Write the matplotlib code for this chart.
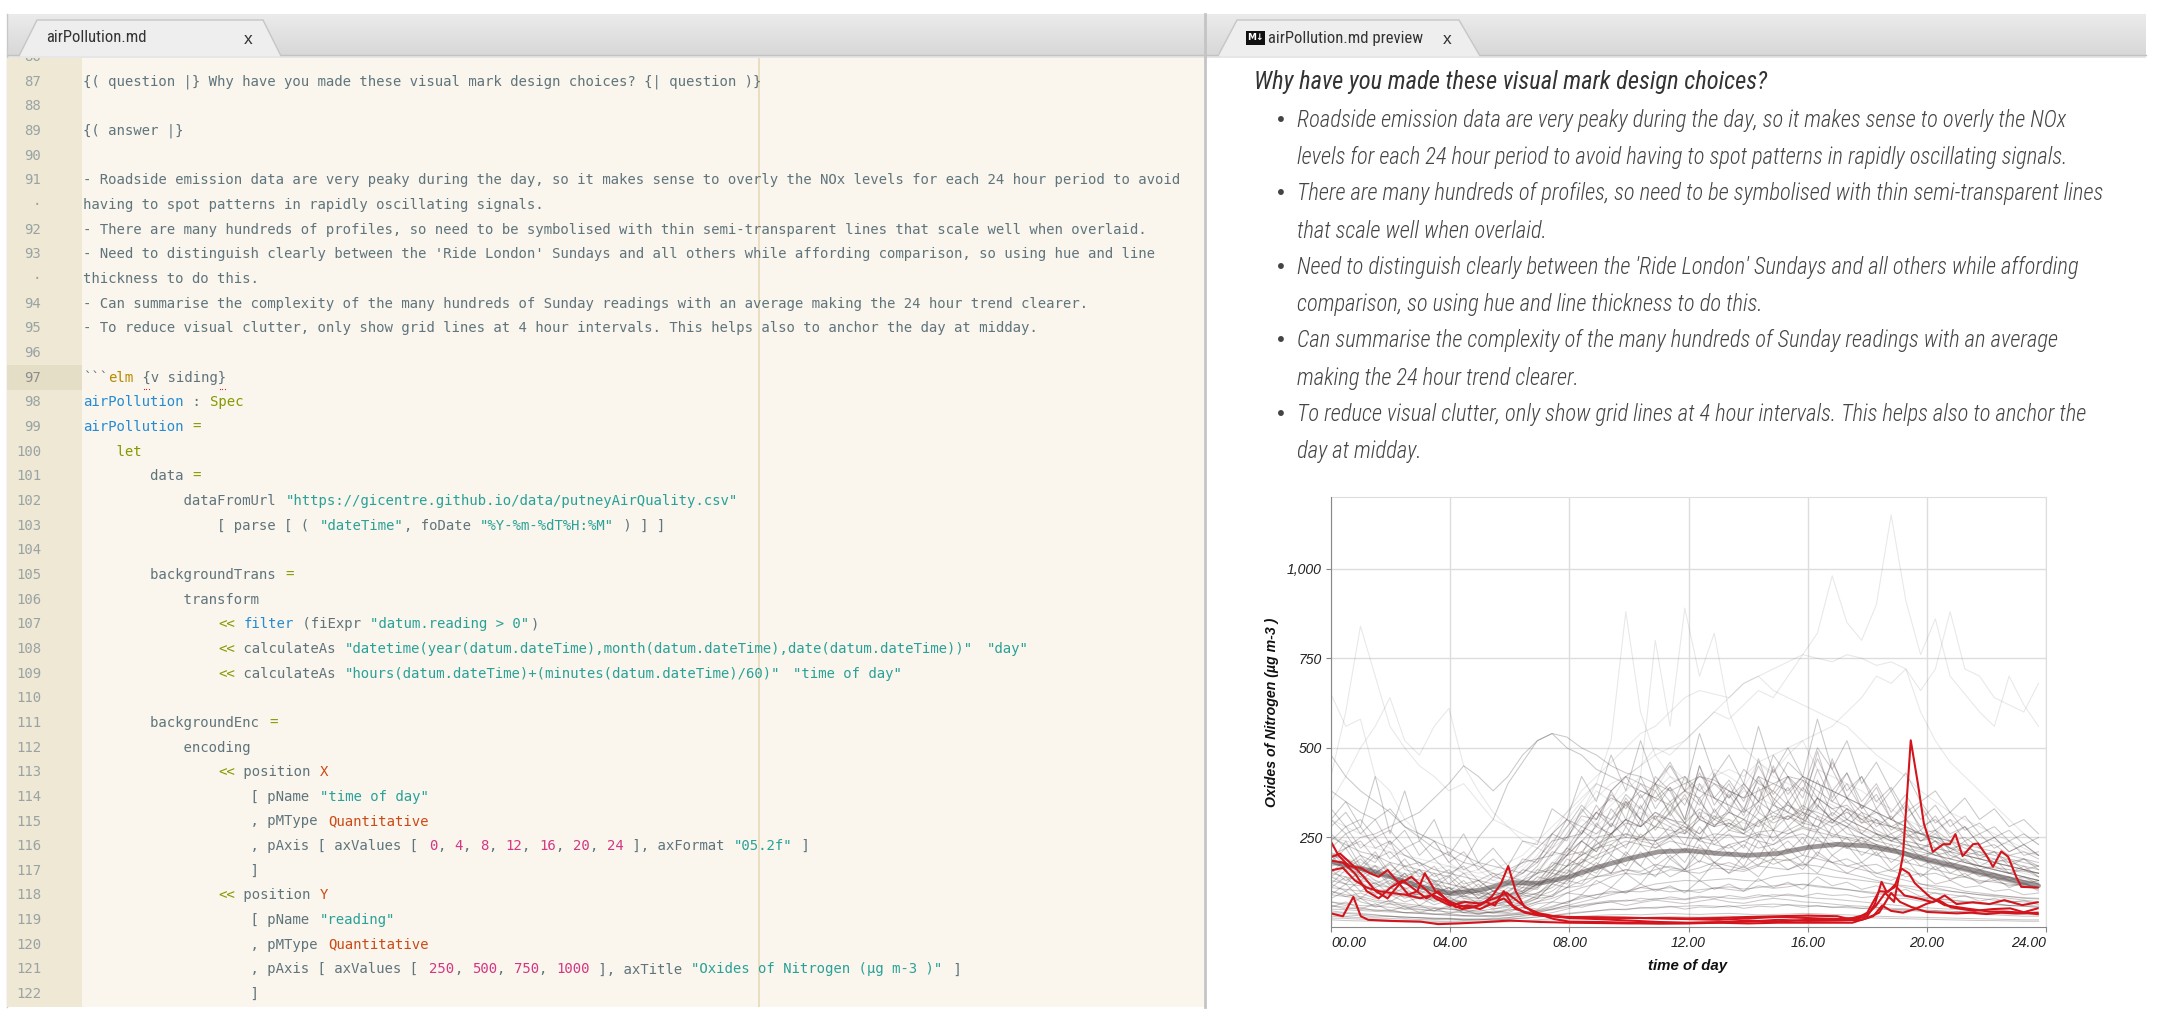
import numpy as np
import matplotlib
matplotlib.use("Agg")
import matplotlib.pyplot as plt
from matplotlib import font_manager
from matplotlib.patches import Polygon, Rectangle
from matplotlib.colors import LinearSegmentedColormap

W, H, DPI = 2166, 1028, 100

# ---------------------------------------------------------------- chart data
X_TICKS = [0, 4, 8, 12, 16, 20, 24]
X_LABELS = ["00.00", "04.00", "08.00", "12.00", "16.00", "20.00", "24.00"]
Y_TICKS = [250, 500, 750, 1000]
Y_LABELS = ["250", "500", "750", "1,000"]

# Sunday average profile
AVG_HOURS = [0, 1, 2, 3, 4, 5, 6, 7, 8, 9, 10, 11, 12, 13, 14, 15, 16, 17, 18, 19, 20, 21, 22, 23, 23.75]
AVG_NOX = [182, 163, 140, 112, 94, 103, 124, 122, 140, 168, 191, 210, 213, 205, 200, 205, 222, 231, 226, 210,
           188, 168, 148, 128, 115]

# background daily profiles, half-hourly readings from 00:00 to 23:45
DAY_01 = [180, 165, 150, 172, 140, 120, 135, 110, 95, 102, 88, 80, 76, 85, 95, 110, 140, 180, 230, 260, 300, 280,
          320, 290, 270, 310, 285, 300, 270, 295, 320, 300, 340, 310, 290, 330, 300, 270, 250, 230, 215, 240, 200,
          185, 170, 160, 150, 140, 130]
DAY_02 = [60, 55, 50, 48, 45, 40, 38, 35, 33, 30, 30, 28, 32, 36, 45, 55, 70, 85, 90, 100, 95, 110, 105, 98, 102,
          96, 110, 105, 100, 115, 108, 112, 120, 115, 110, 105, 98, 92, 90, 85, 80, 78, 75, 70, 66, 62, 60, 58, 55]
DAY_03 = [650, 560, 580, 420, 380, 300, 260, 240, 180, 150, 160, 130, 120, 140, 160, 200, 260, 320, 380, 350, 420,
          400, 380, 450, 410, 380, 440, 420, 390, 460, 430, 480, 520, 440, 420, 400, 380, 350, 330, 300, 280, 260,
          300, 280, 250, 240, 230, 210, 200]
DAY_04 = [420, 600, 840, 700, 560, 500, 450, 420, 380, 400, 350, 300, 280, 260, 240, 220, 250, 300, 280, 320, 350,
          330, 300, 280, 260, 300, 320, 290, 270, 250, 300, 320, 280, 260, 240, 220, 250, 230, 210, 200, 190, 180,
          170, 160, 150, 145, 140, 135, 130]
DAY_05 = [300, 280, 260, 240, 220, 200, 180, 160, 170, 150, 140, 130, 150, 170, 220, 260, 300, 350, 400, 380, 420,
          450, 500, 480, 520, 560, 600, 580, 620, 660, 640, 700, 760, 820, 980, 850, 800, 900, 1150, 910, 760, 860,
          700, 650, 600, 560, 700, 620, 560]
DAY_06 = [150, 140, 130, 120, 110, 95, 90, 80, 70, 65, 60, 62, 58, 70, 85, 100, 130, 160, 190, 210, 230, 250, 240,
          260, 280, 250, 240, 270, 260, 240, 230, 260, 280, 270, 300, 260, 250, 230, 220, 210, 190, 180, 170, 160,
          150, 140, 130, 120, 110]
DAY_07 = [90, 85, 80, 70, 65, 60, 55, 52, 50, 48, 45, 50, 55, 60, 70, 80, 95, 110, 120, 140, 150, 145, 160, 170,
          155, 165, 180, 170, 160, 175, 190, 185, 200, 190, 180, 170, 160, 150, 140, 130, 120, 115, 110, 100, 95, 90,
          85, 80, 78]
DAY_08 = [220, 260, 200, 180, 240, 160, 150, 130, 120, 110, 100, 90, 85, 95, 120, 160, 210, 260, 320, 280, 350,
          300, 420, 380, 300, 450, 360, 320, 400, 350, 480, 420, 380, 500, 440, 360, 320, 300, 280, 260, 240, 260,
          220, 200, 190, 180, 170, 160, 150]
DAY_09 = [40, 38, 35, 33, 30, 28, 26, 25, 24, 23, 22, 24, 26, 30, 35, 40, 50, 60, 65, 70, 75, 72, 80, 78, 76, 82,
          85, 80, 78, 84, 90, 88, 85, 80, 78, 74, 70, 66, 62, 58, 55, 52, 50, 48, 46, 44, 42, 40, 38]
DAY_10 = [25, 24, 22, 20, 19, 18, 17, 16, 15, 15, 14, 15, 16, 18, 20, 24, 28, 30, 32, 34, 35, 34, 36, 38, 36, 35,
          37, 38, 36, 34, 35, 36, 38, 37, 35, 34, 32, 30, 29, 28, 27, 26, 25, 24, 23, 22, 21, 20, 20]
DAY_11 = [380, 350, 320, 300, 330, 280, 250, 220, 200, 180, 170, 150, 140, 130, 150, 170, 200, 240, 280, 260, 300,
          280, 320, 300, 280, 260, 300, 280, 260, 290, 310, 300, 330, 320, 300, 280, 260, 240, 230, 220, 210, 200,
          190, 180, 170, 165, 160, 155, 150]
DAY_12 = [120, 160, 140, 110, 130, 100, 90, 120, 80, 70, 65, 60, 75, 90, 110, 150, 200, 240, 210, 260, 300, 250,
          280, 340, 290, 260, 310, 280, 330, 300, 270, 350, 300, 280, 320, 290, 260, 240, 260, 220, 200, 210, 180,
          170, 160, 150, 140, 130, 120]
DAY_13 = [200, 190, 170, 160, 150, 140, 130, 120, 110, 100, 95, 90, 92, 100, 120, 140, 170, 200, 230, 250, 260,
          240, 230, 250, 270, 240, 230, 220, 240, 260, 250, 270, 290, 280, 260, 250, 240, 230, 220, 210, 200, 190,
          180, 170, 160, 150, 140, 130, 125]
DAY_14 = [250, 230, 210, 200, 180, 170, 160, 150, 140, 180, 250, 300, 400, 460, 520, 540, 500, 480, 440, 420, 400,
          380, 360, 400, 420, 380, 360, 340, 320, 350, 380, 340, 320, 300, 280, 300, 280, 260, 240, 230, 220, 200,
          190, 180, 170, 160, 150, 140, 130]
DAY_15 = [160, 150, 140, 130, 120, 110, 100, 95, 90, 85, 80, 90, 100, 120, 150, 200, 260, 320, 400, 520, 880, 600,
          480, 420, 380, 400, 360, 340, 380, 360, 340, 320, 300, 330, 310, 290, 270, 250, 240, 230, 220, 210, 200,
          190, 180, 170, 160, 150, 140]
DAY_16 = [140, 130, 120, 115, 110, 100, 95, 90, 85, 80, 78, 80, 90, 110, 140, 180, 220, 260, 300, 340, 380, 420,
          800, 560, 890, 700, 820, 600, 500, 460, 420, 400, 380, 360, 340, 320, 300, 290, 280, 270, 260, 240, 220,
          200, 190, 180, 170, 160, 150]
DAY_17 = [200, 190, 180, 170, 160, 150, 140, 130, 120, 110, 100, 110, 130, 160, 200, 260, 320, 380, 420, 460, 500,
          540, 560, 600, 640, 660, 650, 640, 680, 700, 660, 640, 620, 600, 580, 560, 520, 480, 450, 420, 380, 350,
          320, 300, 280, 260, 240, 220, 200]
DAY_18 = [180, 170, 160, 150, 140, 130, 120, 110, 100, 95, 90, 100, 120, 150, 190, 240, 280, 320, 360, 400, 420,
          450, 480, 500, 520, 560, 600, 640, 680, 700, 720, 740, 760, 750, 740, 760, 750, 730, 740, 720, 600, 520,
          460, 420, 380, 340, 300, 260, 230]
DAY_19 = [250, 240, 230, 220, 210, 200, 190, 180, 170, 160, 150, 160, 180, 200, 240, 280, 320, 360, 400, 380, 420,
          400, 380, 420, 400, 380, 420, 440, 420, 460, 480, 500, 520, 540, 560, 600, 640, 700, 680, 720, 660, 720,
          880, 720, 700, 640, 620, 600, 680]
DAY_20 = [130, 120, 115, 105, 100, 90, 85, 80, 75, 70, 68, 66, 70, 80, 95, 120, 150, 180, 200, 220, 240, 230, 220,
          240, 230, 220, 210, 230, 240, 220, 230, 250, 260, 240, 230, 220, 210, 200, 190, 180, 170, 160, 150, 140,
          130, 125, 120, 115, 110]
DAY_21 = [80, 100, 70, 60, 75, 55, 50, 45, 60, 40, 38, 42, 50, 65, 80, 120, 160, 140, 180, 150, 200, 170, 140, 190,
          160, 210, 180, 150, 200, 170, 220, 190, 160, 210, 180, 150, 170, 140, 130, 150, 120, 110, 100, 95, 90, 85,
          80, 75, 70]
DAY_22 = [300, 260, 280, 220, 240, 200, 180, 160, 150, 140, 130, 120, 130, 150, 180, 220, 280, 340, 300, 380, 420,
          360, 400, 450, 380, 420, 400, 360, 440, 400, 380, 460, 420, 400, 380, 360, 340, 320, 300, 280, 260, 250,
          240, 220, 210, 200, 190, 180, 170]
DAY_23 = [50, 48, 46, 44, 42, 40, 38, 36, 34, 32, 30, 32, 35, 40, 48, 58, 70, 80, 90, 95, 100, 98, 105, 110, 100,
          104, 108, 112, 106, 110, 115, 120, 118, 112, 108, 104, 100, 96, 92, 88, 84, 80, 76, 72, 68, 64, 60, 58, 55]
DAY_24 = [170, 180, 160, 150, 140, 120, 110, 100, 90, 85, 80, 82, 88, 100, 130, 170, 220, 280, 260, 300, 340, 300,
          280, 320, 360, 300, 280, 320, 300, 280, 340, 320, 300, 360, 330, 300, 280, 260, 250, 240, 230, 220, 210,
          200, 190, 180, 170, 160, 150]
DAY_25 = [480, 420, 380, 350, 320, 280, 260, 240, 220, 200, 180, 170, 160, 180, 220, 260, 300, 280, 320, 360, 340,
          380, 360, 340, 380, 360, 400, 380, 360, 420, 400, 380, 420, 400, 380, 360, 340, 320, 300, 280, 260, 240,
          220, 210, 200, 190, 180, 170, 160]
DAY_26 = [100, 90, 85, 75, 70, 65, 60, 55, 50, 45, 42, 40, 38, 40, 45, 50, 60, 70, 80, 90, 100, 110, 120, 125, 130,
          128, 132, 135, 130, 128, 140, 145, 150, 148, 140, 135, 130, 125, 120, 115, 110, 105, 100, 95, 90, 88, 85,
          82, 80]
DAY_27 = [30, 28, 26, 25, 24, 22, 21, 20, 20, 19, 19, 20, 22, 25, 28, 32, 36, 40, 45, 48, 50, 52, 55, 56, 58, 60,
          58, 56, 60, 62, 64, 62, 60, 58, 56, 54, 52, 50, 48, 46, 44, 42, 40, 38, 36, 34, 32, 30, 30]
DAY_28 = [140, 120, 160, 130, 110, 150, 100, 90, 110, 80, 70, 90, 100, 130, 170, 230, 300, 260, 340, 280, 360, 300,
          380, 320, 420, 350, 300, 380, 330, 410, 360, 320, 390, 340, 300, 280, 320, 260, 240, 260, 220, 200, 210,
          180, 170, 160, 150, 140, 130]
DAY_29 = [350, 420, 500, 560, 640, 520, 480, 560, 610, 450, 380, 320, 280, 240, 220, 200, 210, 240, 260, 280, 300,
          320, 300, 280, 300, 320, 310, 300, 290, 280, 300, 310, 320, 300, 290, 280, 270, 260, 250, 240, 230, 220,
          210, 200, 190, 180, 170, 160, 150]
DAY_30 = [200, 220, 250, 260, 280, 300, 320, 360, 400, 450, 420, 380, 420, 480, 520, 540, 530, 500, 480, 450, 430,
          420, 400, 380, 400, 420, 410, 380, 360, 380, 400, 420, 410, 380, 350, 330, 310, 290, 280, 270, 260, 250,
          240, 230, 220, 210, 200, 190, 180]
DAY_31 = [70, 65, 60, 58, 55, 50, 48, 45, 42, 40, 38, 40, 45, 55, 70, 90, 110, 130, 140, 150, 160, 150, 145, 160,
          155, 150, 165, 160, 155, 170, 165, 160, 175, 170, 160, 150, 140, 130, 120, 110, 100, 95, 90, 85, 80, 75,
          72, 70, 68]
DAY_32 = [110, 105, 100, 95, 90, 85, 80, 75, 72, 70, 68, 72, 80, 95, 115, 140, 170, 200, 220, 240, 250, 245, 240,
          255, 250, 245, 260, 255, 250, 265, 270, 260, 275, 265, 255, 245, 235, 225, 215, 200, 185, 175, 165, 155,
          145, 135, 125, 115, 105]
DAY_33 = [20, 18, 17, 16, 15, 14, 13, 13, 12, 12, 12, 13, 14, 16, 18, 20, 22, 24, 25, 26, 27, 26, 28, 29, 28, 27,
          29, 30, 28, 27, 28, 29, 30, 29, 28, 27, 26, 25, 24, 23, 22, 21, 20, 19, 18, 18, 17, 16, 16]
DAY_34 = [45, 40, 38, 34, 30, 28, 25, 24, 22, 20, 20, 22, 26, 32, 40, 50, 60, 55, 65, 70, 60, 68, 75, 70, 65, 72,
          78, 70, 66, 74, 80, 76, 70, 68, 64, 60, 58, 55, 52, 50, 48, 46, 44, 42, 40, 38, 36, 35, 34]
DAY_35 = [150, 190, 140, 170, 120, 150, 110, 130, 90, 115, 80, 100, 85, 120, 110, 160, 150, 210, 190, 260, 220, 300,
          240, 280, 230, 320, 250, 290, 260, 340, 270, 310, 280, 360, 290, 330, 260, 300, 240, 270, 220, 240, 190,
          210, 170, 190, 150, 170, 140]
DAY_36 = [210, 170, 200, 150, 180, 130, 160, 110, 140, 90, 120, 80, 110, 100, 140, 130, 190, 170, 240, 200, 280, 230,
          310, 250, 290, 240, 330, 270, 300, 250, 350, 280, 320, 270, 380, 300, 340, 280, 310, 250, 270, 220, 240,
          200, 210, 180, 190, 160, 170]
DAY_37 = [90, 120, 80, 110, 70, 95, 60, 85, 55, 75, 50, 70, 60, 90, 80, 120, 110, 160, 140, 190, 150, 210, 170, 200,
          160, 230, 180, 210, 170, 240, 190, 220, 180, 250, 200, 230, 180, 210, 160, 190, 140, 170, 130, 150, 120,
          140, 110, 125, 100]
DAY_38 = [260, 220, 240, 190, 210, 170, 180, 140, 160, 120, 130, 100, 120, 110, 160, 150, 220, 200, 290, 250, 350,
          280, 400, 310, 370, 300, 430, 330, 390, 320, 450, 350, 410, 330, 470, 360, 420, 330, 380, 300, 340, 270,
          300, 240, 260, 220, 240, 200, 210]
DAY_39 = [120, 100, 130, 90, 110, 80, 95, 70, 85, 60, 75, 55, 70, 65, 90, 85, 130, 120, 170, 150, 210, 170, 240,
          190, 220, 180, 250, 200, 230, 190, 270, 210, 250, 200, 280, 220, 250, 200, 230, 180, 200, 160, 180, 140,
          160, 130, 140, 120, 130]
DAY_40 = [180, 220, 160, 200, 140, 170, 120, 150, 100, 130, 90, 110, 95, 130, 120, 180, 170, 240, 210, 290, 250, 340,
          270, 320, 260, 360, 280, 330, 270, 390, 300, 350, 290, 410, 310, 360, 290, 330, 270, 300, 240, 270, 210,
          240, 190, 210, 170, 190, 160]
DAY_41 = [70, 60, 80, 55, 65, 50, 60, 45, 55, 40, 50, 38, 48, 50, 65, 70, 95, 90, 130, 110, 150, 120, 170, 140, 160,
          130, 180, 150, 170, 140, 190, 160, 180, 150, 200, 170, 180, 150, 160, 140, 150, 120, 130, 110, 115, 100,
          105, 90, 95]
DAY_42 = [240, 280, 220, 250, 190, 220, 170, 190, 150, 170, 130, 150, 120, 160, 150, 210, 200, 270, 240, 330, 280,
          370, 300, 350, 290, 400, 320, 370, 310, 420, 340, 390, 320, 440, 350, 400, 330, 370, 300, 340, 280, 300,
          260, 280, 230, 250, 210, 230, 200]
DAY_43 = [110, 140, 100, 125, 90, 110, 80, 100, 70, 90, 65, 80, 70, 95, 90, 130, 120, 170, 150, 200, 170, 230, 190,
          220, 180, 250, 200, 230, 190, 260, 210, 240, 200, 270, 220, 250, 200, 230, 180, 210, 170, 190, 150, 170,
          140, 150, 130, 140, 120]
DAY_44 = [160, 130, 150, 120, 140, 105, 125, 95, 110, 85, 100, 75, 90, 95, 120, 130, 170, 180, 220, 230, 260, 250,
          280, 270, 260, 300, 280, 290, 270, 320, 290, 310, 290, 340, 300, 320, 290, 300, 260, 280, 240, 250, 220,
          230, 200, 210, 180, 190, 170]
DAY_45 = [330, 280, 300, 250, 270, 220, 240, 190, 210, 160, 180, 140, 160, 150, 190, 200, 250, 260, 320, 300, 370,
          330, 400, 350, 380, 340, 420, 360, 400, 350, 440, 370, 420, 360, 460, 380, 420, 350, 390, 320, 350, 290,
          320, 270, 290, 250, 270, 230, 250]
DAY_46 = [55, 70, 50, 65, 45, 58, 40, 52, 38, 48, 35, 45, 40, 55, 50, 70, 65, 90, 80, 110, 95, 120, 100, 115, 95,
          130, 105, 120, 100, 135, 110, 125, 105, 140, 115, 125, 105, 115, 95, 105, 85, 95, 80, 88, 72, 80, 68, 74,
          62]
DAY_47 = [200, 160, 190, 150, 175, 140, 160, 125, 145, 110, 130, 100, 115, 120, 150, 160, 200, 210, 250, 260, 290,
          280, 310, 300, 290, 330, 300, 320, 300, 350, 320, 340, 310, 360, 330, 340, 300, 320, 280, 300, 260, 270,
          240, 250, 220, 230, 200, 210, 190]
DAY_48 = [140, 170, 130, 160, 115, 140, 100, 125, 90, 110, 80, 100, 85, 110, 105, 150, 140, 190, 170, 230, 200, 260,
          220, 250, 210, 280, 230, 260, 220, 300, 240, 280, 230, 310, 250, 280, 230, 260, 210, 240, 190, 210, 170,
          190, 160, 170, 150, 160, 140]
DAY_49 = [100, 85, 95, 80, 90, 70, 82, 62, 75, 55, 68, 50, 60, 62, 80, 85, 110, 115, 140, 145, 160, 155, 175, 165,
          160, 185, 170, 180, 165, 195, 175, 190, 170, 200, 180, 190, 170, 175, 155, 165, 145, 150, 135, 140, 125,
          130, 115, 120, 110]
DAY_50 = [280, 320, 260, 300, 230, 270, 200, 240, 180, 210, 160, 190, 150, 180, 190, 240, 250, 310, 300, 370, 330,
          400, 350, 390, 340, 430, 360, 410, 350, 450, 370, 420, 360, 470, 380, 430, 350, 400, 320, 370, 300, 340,
          280, 310, 260, 280, 240, 260, 230]
DAY_51 = [35, 30, 33, 28, 30, 25, 27, 22, 24, 20, 22, 19, 22, 24, 28, 32, 38, 42, 45, 50, 48, 55, 52, 58, 50, 56,
          54, 60, 52, 58, 56, 62, 55, 60, 54, 58, 52, 55, 48, 50, 45, 46, 42, 44, 40, 40, 38, 37, 36]
DAY_52 = [60, 50, 55, 45, 48, 40, 42, 36, 38, 32, 34, 30, 33, 36, 42, 48, 55, 62, 68, 74, 72, 80, 76, 84, 78, 86,
          80, 88, 82, 90, 84, 92, 86, 94, 88, 90, 82, 86, 78, 80, 72, 74, 68, 70, 64, 66, 60, 62, 58]
DAY_53 = [300, 350, 280, 420, 260, 380, 240, 300, 200, 260, 180, 220, 170, 240, 230, 330, 300, 420, 350, 480, 380,
          520, 400, 460, 380, 540, 420, 480, 400, 560, 430, 500, 420, 580, 440, 520, 400, 460, 380, 430, 350, 380,
          320, 360, 300, 330, 280, 300, 260]
DAY_54 = [180, 240, 170, 210, 150, 190, 140, 170, 120, 150, 110, 140, 130, 190, 180, 260, 240, 330, 280, 380, 300,
          420, 330, 390, 300, 450, 340, 400, 320, 470, 350, 420, 330, 490, 360, 430, 330, 390, 300, 350, 270, 310,
          250, 280, 230, 250, 210, 230, 200]

BACKGROUND_DAYS = [DAY_01, DAY_02, DAY_03, DAY_04, DAY_05, DAY_06, DAY_07, DAY_08, DAY_09, DAY_10, DAY_11, DAY_12,
                   DAY_13, DAY_14, DAY_15, DAY_16, DAY_17, DAY_18, DAY_19, DAY_20, DAY_21, DAY_22, DAY_23, DAY_24,
                   DAY_25, DAY_26, DAY_27, DAY_28, DAY_29, DAY_30, DAY_31, DAY_32, DAY_33, DAY_34, DAY_35, DAY_36,
                   DAY_37, DAY_38, DAY_39, DAY_40, DAY_41, DAY_42, DAY_43, DAY_44, DAY_45, DAY_46, DAY_47, DAY_48,
                   DAY_49, DAY_50, DAY_51, DAY_52, DAY_53, DAY_54]

# 'Ride London' Sundays
RIDE_A_T = [0, 0.25, 0.6, 1.0, 1.3, 1.6, 1.9, 2.3, 2.6, 2.9, 3.15, 3.5, 4.0, 4.5, 5.0, 5.4, 5.7, 5.95, 6.2, 6.5,
            7.0, 7.5, 8, 9, 10, 11, 12, 13, 14, 15, 16, 17, 17.5, 18.0, 18.3, 18.6, 18.9, 19.2, 19.46, 19.7, 19.9,
            20.2, 20.55, 20.77, 20.96, 21.2, 21.55, 21.72, 22.0, 22.22, 22.5, 22.73, 23.0, 23.17, 23.72]
RIDE_A_V = [238, 200, 170, 165, 150, 140, 159, 120, 90, 100, 150, 100, 70, 55, 60, 85, 120, 170, 100, 55, 38, 30,
            28, 27, 26, 24, 22, 20, 24, 28, 25, 22, 25, 35, 60, 95, 70, 200, 521, 400, 289, 210, 231, 231, 259, 198,
            231, 233, 200, 168, 211, 196, 140, 112, 110]
RIDE_B_T = [0, 0.4, 0.8, 1.2, 1.6, 2.0, 2.4, 2.8, 3.2, 3.6, 4.0, 4.4, 4.8, 5.2, 5.5, 5.8, 6.1, 6.5, 7.0, 8, 9, 10,
            11, 12, 13, 14, 15, 16, 17, 17.5, 18.0, 18.26, 18.48, 18.65, 18.9, 19.15, 19.4, 19.6, 20.1, 20.6, 21.3,
            22.1, 22.6, 23.2, 23.72]
RIDE_B_V = [185, 180, 150, 100, 80, 110, 130, 105, 80, 100, 65, 50, 55, 70, 60, 100, 60, 40, 32, 27, 26, 25, 25,
            24, 25, 28, 30, 32, 30, 20, 30, 65, 126, 98, 110, 163, 150, 122, 84, 61, 52, 43, 43, 40, 52]
RIDE_C_T = [0, 0.4, 0.8, 1.2, 1.6, 2.0, 2.5, 3.0, 3.4, 3.8, 4.2, 4.6, 5.0, 5.4, 5.8, 6.2, 6.8, 7.5, 8, 9, 10, 11,
            12, 13, 14, 15, 16, 17, 17.6, 18.0, 18.4, 18.7, 18.92, 19.25, 19.8, 20.2, 20.6, 21.0, 21.55, 22.1, 22.6,
            23.2, 23.72]
RIDE_C_V = [158, 165, 130, 110, 100, 95, 90, 80, 90, 75, 55, 60, 50, 65, 80, 50, 35, 30, 25, 22, 18, 14, 12, 13,
            18, 15, 20, 22, 22, 40, 100, 98, 117, 88, 78, 69, 88, 64, 69, 64, 75, 61, 69]
RIDE_D_T = [0, 0.3, 0.7, 1.1, 1.5, 1.9, 2.3, 2.7, 3.1, 3.5, 4.0, 4.5, 5.0, 5.5, 5.9, 6.3, 6.8, 7.5, 8, 9, 10, 11,
            12, 13, 14, 15, 16, 17, 17.8, 18.2, 18.5, 18.8, 19.2, 19.6, 20.0, 20.4, 20.8, 21.2, 21.6, 22.2, 22.8,
            23.3, 23.72]
RIDE_D_V = [195, 205, 175, 140, 100, 80, 120, 140, 110, 80, 60, 70, 65, 80, 95, 70, 40, 22, 15, 14, 12, 10, 11,
            13, 15, 20, 17, 18, 20, 30, 60, 45, 40, 50, 65, 75, 55, 50, 45, 50, 52, 40, 36]
RIDE_E_T = [0, 0.4, 0.75, 1.0, 1.25, 2, 3, 3.6, 4.3, 5, 6, 7, 8, 9, 10, 11, 12, 13, 14, 15, 16, 17, 17.5, 18.0,
            18.4, 18.8, 19.1, 19.5, 20.0, 20.5, 21.0, 21.5, 22.0, 22.5, 23.0, 23.72]
RIDE_E_V = [38, 30, 84, 30, 20, 17, 15, 8, 10, 13, 18, 14, 12, 11, 10, 10, 10, 12, 10, 12, 12, 12, 12, 25, 40, 95,
            70, 55, 42, 40, 38, 40, 36, 40, 38, 40]

RIDE_SUNDAYS = [(RIDE_A_T, RIDE_A_V), (RIDE_B_T, RIDE_B_V), (RIDE_C_T, RIDE_C_V),
                (RIDE_D_T, RIDE_D_V), (RIDE_E_T, RIDE_E_V)]

# ---------------------------------------------------------------- page text
HEADING = "Why have you made these visual mark design choices?"
BULLETS = [
    ("Roadside emission data are very peaky during the day, so it makes sense to overly the NOx",
     "levels for each 24 hour period to avoid having to spot patterns in rapidly oscillating signals."),
    ("There are many hundreds of profiles, so need to be symbolised with thin semi-transparent lines",
     "that scale well when overlaid."),
    ("Need to distinguish clearly between the 'Ride London' Sundays and all others while affording",
     "comparison, so using hue and line thickness to do this."),
    ("Can summarise the complexity of the many hundreds of Sunday readings with an average",
     "making the 24 hour trend clearer."),
    ("To reduce visual clutter, only show grid lines at 4 hour intervals. This helps also to anchor the",
     "day at midday."),
]

# solarized light syntax colours
D, G, B, C, M, O, Y = "#5f747c", "#859900", "#268bd2", "#2aa198", "#d33682", "#cb4b16", "#b58900"
I16, I20 = " " * 16, " " * 20

EDITOR_ROWS = [
    ("86", []),
    ("87", [("{( question |} Why have you made these visual mark design choices? {| question )}", D)]),
    ("88", []),
    ("89", [("{( answer |}", D)]),
    ("90", []),
    ("91", [("- Roadside emission data are very peaky during the day, so it makes sense to overly the NOx levels "
             "for each 24 hour period to avoid", D)]),
    ("·", [("having to spot patterns in rapidly oscillating signals.", D)]),
    ("92", [("- There are many hundreds of profiles, so need to be symbolised with thin semi-transparent lines "
             "that scale well when overlaid.", D)]),
    ("93", [("- Need to distinguish clearly between the 'Ride London' Sundays and all others while affording "
             "comparison, so using hue and line", D)]),
    ("·", [("thickness to do this.", D)]),
    ("94", [("- Can summarise the complexity of the many hundreds of Sunday readings with an average making the "
             "24 hour trend clearer.", D)]),
    ("95", [("- To reduce visual clutter, only show grid lines at 4 hour intervals. This helps also to anchor "
             "the day at midday.", D)]),
    ("96", []),
    ("97", [("```", D), ("elm", Y), (" {v siding}", D)]),
    ("98", [("airPollution", B), (" : ", D), ("Spec", G)]),
    ("99", [("airPollution", B), (" ", D), ("=", G)]),
    ("100", [("    let", G)]),
    ("101", [("        data ", D), ("=", G)]),
    ("102", [("            dataFromUrl ", D), ('"https://gicentre.github.io/data/putneyAirQuality.csv"', C)]),
    ("103", [(I16 + "[ parse [ ( ", D), ('"dateTime"', C), (", foDate ", D), ('"%Y-%m-%dT%H:%M"', C),
             (" ) ] ]", D)]),
    ("104", []),
    ("105", [("        backgroundTrans ", D), ("=", G)]),
    ("106", [("            transform", D)]),
    ("107", [(I16, D), ("<<", G), (" ", D), ("filter", B), (" (fiExpr ", D), ('"datum.reading > 0"', C),
             (")", D)]),
    ("108", [(I16, D), ("<<", G), (" calculateAs ", D),
             ('"datetime(year(datum.dateTime),month(datum.dateTime),date(datum.dateTime))"', C), (" ", D),
             ('"day"', C)]),
    ("109", [(I16, D), ("<<", G), (" calculateAs ", D), ('"hours(datum.dateTime)+(minutes(datum.dateTime)/60)"', C),
             (" ", D), ('"time of day"', C)]),
    ("110", []),
    ("111", [("        backgroundEnc ", D), ("=", G)]),
    ("112", [("            encoding", D)]),
    ("113", [(I16, D), ("<<", G), (" position ", D), ("X", O)]),
    ("114", [(I20 + "[ pName ", D), ('"time of day"', C)]),
    ("115", [(I20 + ", pMType ", D), ("Quantitative", O)]),
    ("116", [(I20 + ", pAxis [ axValues [ ", D), ("0", M), (", ", D), ("4", M), (", ", D), ("8", M), (", ", D),
             ("12", M), (", ", D), ("16", M), (", ", D), ("20", M), (", ", D), ("24", M), (" ], axFormat ", D),
             ('"05.2f"', C), (" ]", D)]),
    ("117", [(I20 + "]", D)]),
    ("118", [(I16, D), ("<<", G), (" position ", D), ("Y", O)]),
    ("119", [(I20 + "[ pName ", D), ('"reading"', C)]),
    ("120", [(I20 + ", pMType ", D), ("Quantitative", O)]),
    ("121", [(I20 + ", pAxis [ axValues [ ", D), ("250", M), (", ", D), ("500", M), (", ", D), ("750", M),
             (", ", D), ("1000", M), (" ], axTitle ", D), ('"Oxides of Nitrogen (µg m-3 )"', C), (" ]", D)]),
    ("122", [(I20 + "]", D)]),
    ("123", []),
]

# ---------------------------------------------------------------- helpers
names = {f.name for f in font_manager.fontManager.ttflist}


def pick(*cands):
    for c in cands:
        if c in names:
            return c
    return "DejaVu Sans"


COND = pick("Roboto Condensed", "Liberation Sans Narrow", "Roboto", "Lato")
SANS = pick("Liberation Sans", "Arial", "DejaVu Sans")
MONO = "DejaVu Sans Mono"

fig = plt.figure(figsize=(W / DPI, H / DPI), dpi=DPI, facecolor="white")
renderer = fig.canvas.get_renderer()


def px_axes(x0, y0, x1, y1, **kw):
    return fig.add_axes([x0 / W, 1 - y1 / H, (x1 - x0) / W, (y1 - y0) / H], **kw)


def fit_size(text, target_px, **kw):
    t = fig.text(0, 0, text, fontsize=20, **kw)
    w = t.get_window_extent(renderer).width
    t.remove()
    return 20 * target_px / w


# ---------------------------------------------------------------- window chrome
bg = px_axes(0, 0, W, H)
bg.set_axis_off()

grad = LinearSegmentedColormap.from_list("tabbar", ["#ebebeb", "#d8d8d8"])
bg.imshow(np.linspace(0, 1, 64)[:, None], extent=[7, 2146, 55, 14], cmap=grad, aspect="auto", zorder=1)
bg.add_patch(Rectangle((7, 55), 2139, 3, fc="#e6e6e6", ec="none", zorder=1))
for xa, xb in [(7, 19), (281, 1218), (1480, 2146)]:
    bg.plot([xa, xb], [54.5, 54.5], color="#c2c2c2", lw=1, zorder=2)

for pts in ([(19, 56), (37, 20), (263, 20), (281, 56)], [(1218, 56), (1237, 20), (1459, 20), (1480, 56)]):
    bg.add_patch(Polygon(pts, closed=False, fc="#eeeeee", ec="#c6c6c6", lw=1, zorder=3))

tab_fs = fit_size("airPollution.md", 100, family=COND)
bg.text(46, 38, "airPollution.md", fontsize=tab_fs, family=COND, color="#333333", va="center", zorder=4)
bg.text(248, 39, "x", fontsize=tab_fs * 1.05, family=SANS, color="#333333", va="center", ha="center", zorder=4)
bg.text(1268, 38, "airPollution.md preview", fontsize=tab_fs, family=COND, color="#333333", va="center",
        zorder=4)
bg.text(1447, 39, "x", fontsize=tab_fs * 1.05, family=SANS, color="#333333", va="center", ha="center", zorder=4)
bg.add_patch(Rectangle((1246, 31), 19, 14, fc="#111111", ec="none", zorder=4))
bg.text(1255.5, 38, "M↓", fontsize=6.5, family="DejaVu Sans", weight="bold", color="white", ha="center",
        va="center", zorder=5)

bg.plot([7, 7], [14, 1007], color="#c8c8c8", lw=1, zorder=2)
bg.plot([1205, 1205], [14, 1007], color="#c4c4c4", lw=2, zorder=6)
bg.set_xlim(0, W)
bg.set_ylim(H, 0)

# ---------------------------------------------------------------- editor pane
ED_X0, ED_Y0, ED_X1, ED_Y1 = 7, 58, 1204, 1007
ed = px_axes(ED_X0, ED_Y0, ED_X1, ED_Y1)
ed.set_axis_off()
ed.set_xlim(ED_X0, ED_X1)
ed.set_ylim(ED_Y1, ED_Y0)

GUTTER_X1, TEXT_X0, CHAR_W = 82, 83, 8.45
ROW0_Y, ROW_H = 81.7 - 24.66, 24.66
code_fs = CHAR_W / 0.602 * 72 / DPI

ed.add_patch(Rectangle((ED_X0, ED_Y0), GUTTER_X1 - ED_X0, ED_Y1 - ED_Y0, fc="#eee8d5", ec="none", zorder=0))
ed.add_patch(Rectangle((GUTTER_X1, ED_Y0), ED_X1 - GUTTER_X1, ED_Y1 - ED_Y0, fc="#faf6ed", ec="none", zorder=0))
ed.plot([758.5, 758.5], [ED_Y0, ED_Y1], color="#e6dab9", lw=1.2, zorder=1)

for i, (num, segs) in enumerate(EDITOR_ROWS):
    y = ROW0_Y + i * ROW_H
    ncol = "#8c8c8c" if num == "97" else "#9aa3a3"
    if num == "97":
        ed.add_patch(Rectangle((ED_X0, y - ROW_H / 2), GUTTER_X1 - ED_X0, ROW_H, fc="#e5dec7", ec="none",
                               zorder=0.5))
        for col in (7, 16):
            xc = TEXT_X0 + (col + 0.5) * CHAR_W
            ed.plot([xc - 2.5, xc, xc + 2.5], [y + 11] * 3, ls="none", marker="o", ms=0.9, mew=0,
                    color="#d02030", zorder=3)
    if num == "·":
        ed.text(37, y, "·", fontsize=code_fs, family=MONO, color=ncol, ha="center", va="center", clip_on=True)
    else:
        ed.text(41, y, num, fontsize=code_fs, family=MONO, color=ncol, ha="right", va="center", clip_on=True,
                zorder=2)
    col = 0
    for txt, colr in segs:
        ed.text(TEXT_X0 + col * CHAR_W, y, txt, fontsize=code_fs, family=MONO, color=colr, ha="left",
                va="center", clip_on=True, zorder=2)
        col += len(txt)

# ---------------------------------------------------------------- preview text
head_fs = fit_size(HEADING, 513, family=COND, style="italic")
bg.text(1254, 82, HEADING, fontsize=head_fs, family=COND, style="italic", color="#333333", va="center",
        zorder=4)
body_fs = fit_size(BULLETS[0][0], 773, family=COND, style="italic", weight="light")
for i, (first, second) in enumerate(BULLETS):
    y = 120 + 73.6 * i
    bg.text(1281, y, "•", fontsize=body_fs * 0.9, family="DejaVu Sans", color="#444444", ha="center",
            va="center", zorder=4)
    bg.text(1297, y, first, fontsize=body_fs, family=COND, style="italic", weight="light", color="#444444",
            va="center", zorder=4)
    bg.text(1297, y + 37.5, second, fontsize=body_fs, family=COND, style="italic", weight="light",
            color="#444444", va="center", zorder=4)

# ---------------------------------------------------------------- chart
ax = px_axes(1331, 497, 2046, 927)
ax.set_facecolor("white")
for day in BACKGROUND_DAYS:
    # rare high-pollution days show up only faintly, the common ones build the dense cloud
    faint = max(day) > 600
    ax.plot(np.linspace(0, 23.75, len(day)), day, color="#4a3a3a", alpha=0.12 if faint else 0.28, lw=0.75,
            zorder=2)
ax.plot(AVG_HOURS, AVG_NOX, color="#5e5454", alpha=0.6, lw=3.4, solid_capstyle="round", zorder=3)
for t, v in RIDE_SUNDAYS:
    ax.plot(t, v, color="#d4141c", lw=1.5, zorder=4)

ax.set_xlim(0, 24)
ax.set_ylim(0, 1200)
ax.set_xticks(X_TICKS)
ax.set_xticklabels(X_LABELS, family=SANS, style="italic", fontsize=10.1, color="#222222")
ax.set_yticks(Y_TICKS)
ax.set_yticklabels(Y_LABELS, family=SANS, style="italic", fontsize=10.1, color="#222222")
xl = ax.get_xticklabels()
xl[0].set_ha("left")
xl[-1].set_ha("right")
ax.tick_params(length=3.6, width=0.8, color="#888888", pad=3)
ax.grid(True, color="#dddddd", lw=1.0, zorder=1)
ax.set_axisbelow(True)
for side in ("top", "right"):
    ax.spines[side].set_color("#dddddd")
for side in ("left", "bottom"):
    ax.spines[side].set_color("#888888")
    ax.spines[side].set_zorder(5)

bg.text(1272, 712, "Oxides of Nitrogen (µg m-3 )", rotation=90, family=SANS, style="italic", weight="bold",
        fontsize=10.2, color="#111111", ha="center", va="center", zorder=4)
bg.text(1688, 966, "time of day", family=SANS, style="italic", weight="bold", fontsize=10.8, color="#111111",
        ha="center", va="center", zorder=4)

fig.savefig("out.png", dpi=DPI, facecolor="white")
